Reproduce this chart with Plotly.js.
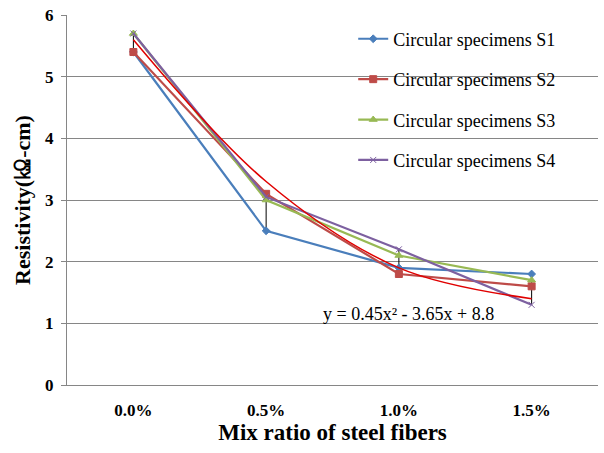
<!DOCTYPE html>
<html><head><meta charset="utf-8">
<script src="https://cdn.plot.ly/plotly-3.0.1.min.js"></script>
<style>body{margin:0;padding:0;background:#fff}#chart{width:604px;height:453px}</style>
</head><body><div id="chart"></div>
<script>
const categories = ["0.0%", "0.5%", "1.0%", "1.5%"];
const seriesNames = ["Circular specimens S1", "Circular specimens S2", "Circular specimens S3", "Circular specimens S4"];
const s1 = [5.4, 2.5, 1.9, 1.8];
const s2 = [5.4, 3.1, 1.8, 1.6];
const s3 = [5.7, 3.0, 2.1, 1.7];
const s4 = [5.7, 3.05, 2.2, 1.3];
const trend = [5.6, 3.3, 1.9, 1.4];
const trendLabel = "y = 0.45x² - 3.65x + 8.8";
const yTicks = [0, 1, 2, 3, 4, 5, 6];

const serif = "Liberation Serif";
const colors = ["#4A7EBB", "#BE4B48", "#98B954", "#7D60A0"];
const symbols = ["diamond", "square", "triangle-up", "x-thin-open"];
const sizes = [6, 7, 7, 6];
const series = [s1, s2, s3, s4];

const traces = [];
categories.forEach((c, i) => {
  const vals = series.map(s => s[i]);
  traces.push({x: [c, c], y: [Math.min(...vals), Math.max(...vals)], mode: "lines",
    line: {color: "#000", width: 1}, showlegend: false, hoverinfo: "skip"});
});
series.forEach((s, k) => {
  traces.push({x: categories, y: s, name: seriesNames[k], mode: "lines+markers", legendgroup: "g" + k,
    line: {color: colors[k], width: 2.2},
    marker: {symbol: symbols[k], size: sizes[k], color: colors[k], line: {color: colors[k], width: 1}}});
});
traces.push({x: categories, y: trend, mode: "lines", line: {color: "#E00000", width: 1.5, shape: "spline"},
  showlegend: false, hoverinfo: "skip"});

const layout = {
  width: 604, height: 453,
  margin: {l: 67, r: 6, t: 15, b: 68},
  paper_bgcolor: "#fff", plot_bgcolor: "#fff",
  font: {family: serif, color: "#000"},
  showlegend: true,
  legend: {x: 0.539, y: 0.985, xanchor: "left", yanchor: "top", bgcolor: "rgba(0,0,0,0)",
    font: {family: serif, size: 18, color: "#000"}, tracegroupgap: 14, traceorder: "grouped", itemwidth: 30},
  xaxis: {type: "category", range: [-0.5, 3.5], showgrid: false, zeroline: false,
    showline: true, linecolor: "#868686", ticks: "", tickfont: {family: serif, size: 17, weight: "bold"},
    ticklabelstandoff: 10,
    title: {text: "<b>Mix ratio of steel fibers</b>", font: {family: serif, size: 23}, standoff: 4}},
  yaxis: {range: [0, 6], tickvals: yTicks, ticktext: yTicks.map(String), showgrid: true, gridcolor: "#868686", gridwidth: 1,
    zeroline: false, showline: true, linecolor: "#868686", ticks: "outside", ticklen: 5, tickcolor: "#868686",
    tickfont: {family: serif, size: 17, weight: "bold"}, ticklabelstandoff: 4,
    title: {text: "<b>Resistivity(㏀-cm)</b>", font: {family: serif, size: 22}, standoff: 8}},
  annotations: [{x: 2.07, y: 1.15, xref: "x", yref: "y", text: trendLabel, showarrow: false,
    font: {family: serif, size: 18, color: "#000"}, xanchor: "center", yanchor: "middle"}]
};
Plotly.newPlot("chart", traces, layout, {staticPlot: true});
</script></body></html>
